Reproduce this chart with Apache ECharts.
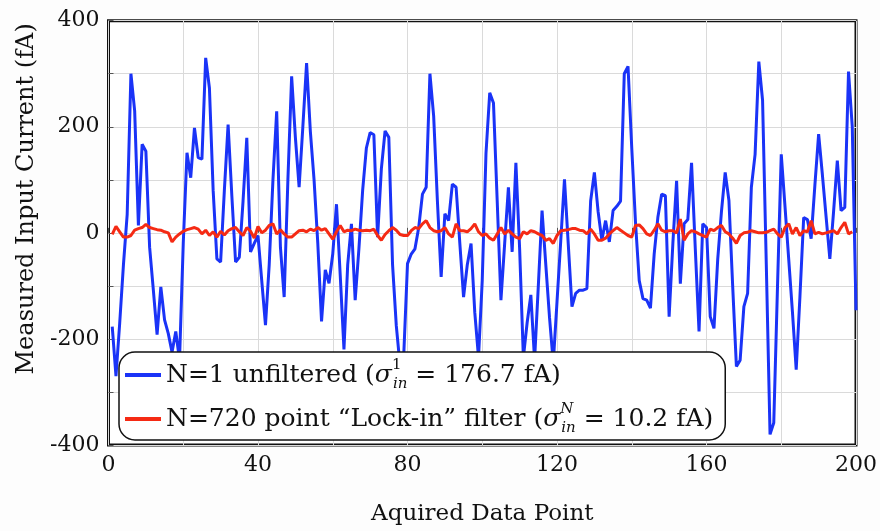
<!DOCTYPE html>
<html>
<head>
<meta charset="utf-8">
<script src="https://cdn.jsdelivr.net/npm/echarts@6/dist/echarts.min.js"></script>
<style>
html, body { margin: 0; padding: 0; background: #fdfdfd; }
#chart { width: 880px; height: 531px; }
</style>
</head>
<body>
<div id="chart"></div>
<script>
// unfiltered samples, data points 1..200 (fA)
var blue = [
  -177, -270, -170, -60, 35, 300, 230, 14, 167, 154,
  -27, -108, -192, -102, -164, -190, -225, -186, -240, -20,
  151, 104, 198, 142, 139, 330, 273, 80, -49, -55,
  80, 204, 70, -55, -46, 60, 179, -36, -20, -5,
  -90, -174, -60, 100, 229, -27, -121, 100, 295, 180,
  86, 200, 320, 192, 100, -20, -167, -70, -95, -40,
  54, -80, -220, -60, 17, -127, -30, 80, 160, 189,
  185, -8, 120, 192, 180, -60, -175, -250, -230, -58,
  -40, -30, 10, 73, 86, 300, 220, 60, -83, 36,
  23, 92, 86, -20, -121, -60, -20, -150, -235, -89,
  150, 264, 245, 60, -127, -20, 86, -36, 132, -30,
  -235, -170, -117, -240, -100, 42, -60, -160, -245, -130,
  -15, 101, -20, -139, -114, -108, -108, -105, 60, 114,
  40, -14, 23, -17, 42, 50, 60, 300, 314, 160,
  20, -90, -124, -127, -142, -40, 30, 73, 70, -158,
  -20, 98, -96, 17, 25, 132, -30, -186, 17, 10,
  -158, -180, -50, 40, 114, 61, -100, -252, -240, -139,
  -114, 86, 148, 323, 250, -60, -380, -358, -100, 148,
  50, -50, -150, -258, -120, 29, 25, -11, 90, 186,
  110, 30, -49, 40, 136, 42, 48, 304, 200, -146
];

// lock-in filtered samples, data points 1..199 (fA)
var red = [
  -3, 12, 2, -8, -8, -5, 5, 8, 10, 16,
  10, 8, 6, 5, 2, 0, -17, -8, -2, 3,
  6, 8, 10, 7, -2, 5, -5, 2, -8, 3,
  -4, 4, 8, 10, 2, -5, 10, 3, -10, 12,
  0, 5, 14, 17, -2, 6, -2, -8, -8, -2,
  4, 5, 2, 7, 4, 10, 5, 8, -2, -12,
  2, 14, 2, 5, 4, 7, 5, 4, 5, 4,
  7, -5, -14, -3, 4, 10, 5, -3, -5, -5,
  4, 10, 8, 17, 23, 10, 4, 2, 4, 10,
  -2, -8, 17, 4, 4, 2, 8, 17, 2, -5,
  -2, -10, -14, -2, 10, -2, 5, -2, -8, -11,
  2, -2, 4, 2, -2, -5, -14, -11, -20, -5,
  4, 5, 6, 8, 8, 5, 4, -2, 7, -2,
  -14, -14, -10, -2, 4, 10, 5, 0, -5, -8,
  14, 15, 8, -2, -5, 5, 17, 5, 2, 4,
  4, 0, 26, -14, -2, 4, 2, -2, -5, -8,
  7, 4, 10, 14, 2, -2, -10, -20, -5, 0,
  1, 4, 2, 0, 0, 1, 4, 7, -2, -8,
  10, 17, -2, 10, -5, 4, 2, 23, -2, 1,
  -2, 0, 2, 4, -2, 10, 20, -2, 2
];

var xLabels = [0, 40, 80, 120, 160, 200];
var yLabels = [-400, -200, 0, 200, 400];

var blueName = 'N=1 unfiltered';
var redName = 'N=720 point filter';

var serif = 'DejaVu Serif';

function toPoints(arr) {
  return arr.map(function (v, i) { return [i + 1, v]; });
}

var legendText = {};
legendText[blueName] = '{t|N=1 unfiltered (}{s|\u03c3}{p|1}{b|in}{t| = 176.7 fA)}';
legendText[redName] = '{t|N=720 point \u201cLock-in\u201d filter (}{s|\u03c3}{pi|N}{b|in}{t| = 10.2 fA)}';

var chart = echarts.init(document.getElementById('chart'));

chart.setOption({
  backgroundColor: '#fdfdfd',
  animation: false,
  grid: {
    left: 108.5,
    right: 20,
    top: 20.7,
    bottom: 83.7,
    show: true,
    borderColor: '#111',
    borderWidth: 3,
    backgroundColor: '#ffffff'
  },
  legend: {
    orient: 'vertical',
    left: 119,
    top: 352,
    data: [blueName, redName],
    icon: 'rect',
    itemWidth: 36,
    itemHeight: 4,
    itemGap: 10,
    padding: [6, 12, 4, 6],
    backgroundColor: '#ffffff',
    borderColor: '#111',
    borderWidth: 1.5,
    borderRadius: 16,
    formatter: function (name) { return legendText[name]; },
    textStyle: {
      color: '#111',
      fontFamily: serif,
      fontSize: 25,
      rich: {
        t: { fontFamily: serif, fontSize: 25, color: '#111', lineHeight: 34 },
        s: { fontFamily: serif, fontSize: 25, fontStyle: 'italic', color: '#111', lineHeight: 34 },
        p: { fontFamily: serif, fontSize: 15, color: '#111', verticalAlign: 'top', width: 1, lineHeight: 34 },
        pi: { fontFamily: serif, fontSize: 15, fontStyle: 'italic', color: '#111', verticalAlign: 'top', width: 1, lineHeight: 34 },
        b: { fontFamily: serif, fontSize: 15, fontStyle: 'italic', color: '#111', verticalAlign: 'bottom', lineHeight: 34 }
      }
    }
  },
  xAxis: {
    type: 'value',
    min: 0,
    max: 200,
    interval: 20,
    name: 'Aquired Data Point',
    nameLocation: 'middle',
    nameGap: 58,
    nameTextStyle: { fontFamily: serif, fontSize: 23, color: '#111' },
    axisLine: { show: false },
    axisTick: { show: true, inside: true, length: 5, lineStyle: { color: '#555' } },
    axisLabel: {
      margin: 9,
      fontFamily: serif,
      fontSize: 22,
      color: '#111',
      formatter: function (v) { return xLabels.indexOf(v) >= 0 ? String(v) : ''; }
    },
    splitLine: { show: true, lineStyle: { color: '#dadada', width: 1 } }
  },
  yAxis: {
    type: 'value',
    min: -400,
    max: 400,
    interval: 100,
    name: 'Measured Input Current (fA)',
    nameLocation: 'middle',
    nameGap: 62,
    nameTextStyle: { fontFamily: serif, fontSize: 24, color: '#111', padding: [0, 0, 0, 68] },
    axisLine: { show: false },
    axisTick: { show: true, inside: true, length: 5, lineStyle: { color: '#555' } },
    axisLabel: {
      margin: 9,
      fontFamily: serif,
      fontSize: 22,
      color: '#111',
      formatter: function (v) { return yLabels.indexOf(v) >= 0 ? String(v) : ''; }
    },
    splitLine: { show: true, lineStyle: { color: '#dadada', width: 1 } }
  },
  series: [
    {
      name: blueName,
      type: 'line',
      data: toPoints(blue),
      symbol: 'none',
      lineStyle: { color: '#1a33f7', width: 3 },
      itemStyle: { color: '#1a33f7' }
    },
    {
      name: redName,
      type: 'line',
      data: toPoints(red),
      symbol: 'none',
      lineStyle: { color: '#f52a14', width: 3 },
      itemStyle: { color: '#f52a14' }
    }
  ]
});
</script>
</body>
</html>
